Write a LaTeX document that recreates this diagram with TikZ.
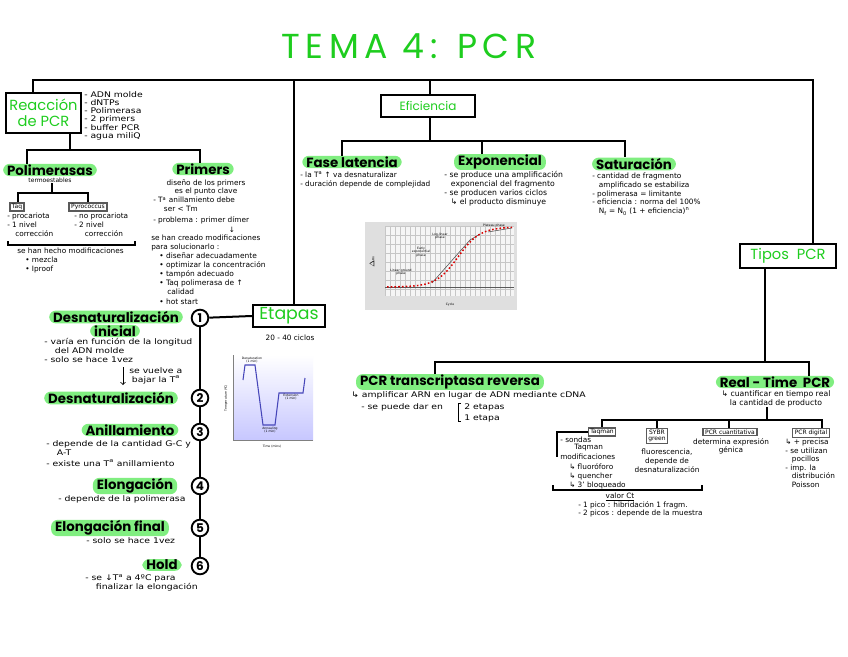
\documentclass[tikz,border=0pt]{standalone}
\usepackage{fontspec}
\setmainfont{DejaVu Sans}
\newfontfamily\hfont{Poppins}
\newfontfamily\wfont{DejaVu Sans}[FakeStretch=1.2]
\usetikzlibrary{calc}
\definecolor{hlg}{RGB}{128,238,128}
\definecolor{tg}{RGB}{30,205,30}
\definecolor{bxg}{RGB}{90,90,90}
\tikzset{
  conn/.style={line width=1.5pt},
  thinconn/.style={line width=1pt},
  hl/.style={fill=hlg, rounded corners=5pt, inner xsep=3pt, inner ysep=0.6pt, text=black, font=\hfont\bfseries\fontsize{10}{11}\selectfont},
  sm/.style={inner sep=0pt, align=left, font=\fontsize{5.5}{6.5}\selectfont},
  smc/.style={sm, align=center},
  smw/.style={inner sep=0pt, align=left, font=\wfont\fontsize{5.8}{6.7}\selectfont},
  gbox/.style={draw, line width=1.7pt, text=tg, align=center},
  tbox/.style={draw=bxg, line width=1pt, inner xsep=1.5pt, inner ysep=1pt, align=center, font=\fontsize{4.5}{5}\selectfont},
  num/.style={circle, draw, line width=1.4pt, minimum size=12.5pt, inner sep=0pt, fill=white, font=\hfont\bfseries\fontsize{9}{9}\selectfont},
  tiny/.style={inner sep=0pt, align=center, font=\fontsize{2.3}{2.6}\selectfont},
}
\begin{document}
\begin{tikzpicture}[x=0.75pt,y=-0.75pt]
\useasboundingbox[fill=white] (0,0) rectangle (848,656);

% title
\node[text=tg, font=\hfont\fontsize{26}{26}\selectfont\addfontfeature{LetterSpace=16}] (title) at (409,46) {TEMA 4: PCR};

% main boxes
\node[gbox, font=\hfont\fontsize{11}{12}\selectfont, minimum width=56pt, minimum height=30pt, inner sep=1pt] (reac) at (43.5,113) {Reacción\\de PCR};
\node[gbox, font=\hfont\fontsize{9}{10}\selectfont, minimum width=70pt, minimum height=17pt, inner sep=1pt] (efic) at (428,106) {Eficiencia};
\node[gbox, font=\hfont\fontsize{11}{12}\selectfont, minimum width=72pt, minimum height=18pt, inner sep=1pt] (tipos) at (788,256) {Tipos\ \ PCR};
\node[gbox, font=\hfont\fontsize{13}{14}\selectfont, minimum width=54pt, minimum height=17pt, inner sep=1pt] (etapas) at (289,316) {Etapas};
\node[smc] (ciclos) at (290,338) {20 - 40 ciclos};

% Reaccion
\node[smw, anchor=north west, font=\wfont\fontsize{5.8}{6.2}\selectfont] (mat) at (84,91) {- ADN molde\\- dNTPs\\- Polimerasa\\- 2 primers\\- buffer PCR\\- agua miliQ};

% Polimerasas
\node[hl] (poli) at (50,170) {Polimerasas};
\node[smc, font=\fontsize{4.5}{5}\selectfont] (termo) at (50,180.5) {termoestables};
\node[tbox] (taq) at (17,207) {Taq};
\node[tbox] (pyro) at (88,207) {Pyrococcus};
\node[sm, anchor=north west] (taqt) at (7,213) {- procariota\\- 1 nivel\\\hspace*{6pt}corrección};
\node[sm, anchor=north west] (pyrot) at (74,213) {- no procariota\\- 2 nivel\\\hspace*{8pt}corrección};
\draw[thinconn] (8,241) -- (8,245) -- (135,245) -- (135,241);
\node[sm, anchor=north west] (modpol) at (17,248) {se han hecho modificaciones\\\hspace*{6pt}• mezcla\\\hspace*{6pt}• Iproof};

% Primers
\node[hl] (prim) at (203,169) {Primers};
\node[smc, anchor=north, font=\fontsize{5.5}{6}\selectfont] (primd) at (206,180) {diseño de los primers\\es el punto clave};
\node[sm, anchor=north west] (prim1) at (153,197) {- T\textsuperscript{a} anillamiento debe\\\hspace*{8pt}ser < Tm};
\node[sm, anchor=west] (prim2) at (153,220) {- problema : primer dímer};
\node[sm] (arr1) at (232,229.5) {↓};
\node[sm, anchor=north west] (prim3) at (151,235) {se han creado modificaciones\\para solucionarlo :};
\node[sm, anchor=north west, font=\fontsize{5.6}{6.9}\selectfont] (prim4) at (159,252) {• diseñar adecuadamente\\• optimizar la concentración\\• tampón adecuado\\• Taq polimerasa de ↑\\\hspace*{6pt}calidad\\• hot start};

% Eficiencia
\node[hl] (fase) at (352,162) {Fase latencia};
\node[sm, anchor=north west] (faset) at (300,171.5) {- la T\textsuperscript{a} ↑ va desnaturalizar\\- duración depende de complejidad};
\node[hl] (expo) at (500,162) {Exponencial};
\node[sm, anchor=north west, font=\fontsize{5.8}{6.6}\selectfont] (expot) at (444,171.5) {- se produce una amplificación\\\hspace*{5pt}exponencial del fragmento\\- se producen varios ciclos\\\hspace*{5pt}↳ el producto disminuye};
\node[hl] (satu) at (634,164) {Saturación};
\node[sm, anchor=north west] (satut) at (592,173) {- cantidad de fragmento\\\hspace*{5pt}amplificado se estabiliza\\- polimerasa = limitante\\- eficiencia : norma del 100\%\\\hspace*{5pt}N\textsubscript{f} = N\textsubscript{0} (1 + eficiencia)\textsuperscript{n}};

% amplification chart
\fill[gray!25] (365,222) rectangle (517,310);
\fill[gray!8] (385,226) rectangle (514,296);
\foreach \gx in {385,390,...,514} \draw[gray!45, line width=0.25pt] (\gx,226) -- (\gx,296);
\foreach \gy in {226,235,...,296} \draw[gray!45, line width=0.25pt] (385,\gy) -- (514,\gy);
\draw[gray!70!black, line width=0.5pt] (385,287) -- (514,287);
\draw[gray!60!black, line width=0.4pt] (432,283) -- (470,240) -- (480,234);
\draw[gray!60!black, line width=0.4pt] (488,232) -- (512,228);
\draw[red!85!black, line width=1.1pt, dash pattern=on 1.2pt off 1.6pt] plot[domain=387:512, samples=70] (\x, {287-60/(1+exp(-(\x-458)/11))});
\node[tiny] (lpl) at (494,226) {Plateau phase};
\node[tiny] (lll) at (440,236) {Log-linear\\phase};
\node[tiny] (lee) at (421,252) {Early\\exponential\\phase};
\node[tiny] (llg) at (401,272) {Linear ground\\phase};
\node[tiny, rotate=90] (lay) at (372,262) {$\Delta$Rn};
\node[tiny] (lax) at (450,305) {Cycle};

% Etapas stages
\node[num] (c1) at (200,318) {1};
\node[num] (c2) at (200,398) {2};
\node[num] (c3) at (200,432) {3};
\node[num] (c4) at (200,486) {4};
\node[num] (c5) at (200,528) {5};
\node[num] (c6) at (200,566) {6};

\node[hl] (s1a) at (116,317) {Desnaturalización};
\node[hl] (s1b) at (115,331) {inicial};
\node[smw, anchor=north west] (s1t) at (44,338.5) {- varía en función de la longitud\\\hspace*{8pt}del ADN molde\\- solo se hace 1vez};
\coordinate (a1) at (123,367);
\coordinate (a2) at (123,385);
\draw[->, line width=0.6pt] (a1) -- (a2);
\node[smw, anchor=north west] (vuelve) at (129,367) {se vuelve a\\\hspace*{2pt}bajar la T\textsuperscript{a}};
\node[hl] (s2) at (111,398) {Desnaturalización};
\node[hl] (s3) at (130,430) {Anillamiento};
\node[smw, anchor=north west] (s3t) at (46,440) {- depende de la cantidad G-C y\\\hspace*{8pt}A-T};
\node[smw, anchor=west] (s3u) at (46,463) {- existe una T\textsuperscript{a} anillamiento};
\node[hl] (s4) at (135,486) {Elongación};
\node[smw, anchor=west] (s4t) at (58,499) {- depende de la polimerasa};
\node[hl] (s5) at (110,528) {Elongación final};
\node[smw, anchor=west] (s5t) at (86,541) {- solo se hace 1vez};
\node[hl] (s6) at (162,565) {Hold};
\node[smw, anchor=north west] (s6t) at (85,574) {- se ↓T\textsuperscript{a} a 4ºC para\\\hspace*{8pt}finalizar la elongación};

% temperature chart
\shade[top color=white, bottom color=blue!22] (233,355) rectangle (313,440);
\draw[gray, line width=0.4pt] (233,355) -- (233,440) -- (313,440);
\draw[blue!45!gray, line width=0.8pt] (243,380) -- (245,365) -- (255,365) -- (263,425) -- (275,425) -- (279,393) -- (303,393) -- (305,378);
\node[tiny] (tden) at (252,360) {Denaturation\\(1 min)};
\node[tiny] (tann) at (270,430) {Annealing\\(1 min)};
\node[tiny] (text) at (291,397) {Extension\\(1 min)};
\node[tiny] (ttime) at (272,447) {Time (mins)};
\node[tiny, rotate=90] (ttemp) at (226,398) {Temperature (ºC)};

% Tipos PCR
\node[hl] (trans) at (450,382) {PCR transcriptasa reversa};
\node[smw, anchor=west] (transt) at (351,395) {↳ amplificar ARN en lugar de ADN mediante cDNA};
\node[smw, anchor=west] (transu) at (361,407) {- se puede dar en};
\draw[line width=0.7pt] (461,403) -- (458,403) -- (458,421) -- (461,421);
\node[smw, anchor=west] (et2) at (464,407) {2 etapas};
\node[smw, anchor=west] (et1) at (464,418) {1 etapa};

\node[hl] (rt) at (775,382) {Real - Time\ \ PCR};
\node[smc, anchor=north, font=\fontsize{5.8}{6.6}\selectfont] (rtsub) at (776,390.5) {↳ cuantificar en tiempo real\\la cantidad de producto};

\node[tbox] (taqm) at (602,432) {Taqman};
\node[tbox] (sybr) at (657,436) {SYBR\\green};
\node[tbox] (pcrq) at (730,432) {PCR cuantitativa};
\node[tbox] (pcrd) at (811,433) {PCR digital};

\node[sm, anchor=west] (taq1) at (560,440) {- sondas};
\node[sm, anchor=west] (taq2) at (574,448) {Taqman};
\node[sm, anchor=west] (taq3) at (560,457) {modificaciones};
\node[sm, anchor=north west, font=\fontsize{5.5}{7}\selectfont] (taq4) at (569,463) {↳ fluoróforo\\↳ quencher\\↳ 3' bloqueado};
\node[smc, anchor=north] (sybrt) at (667,449) {fluorescencia,\\depende de\\desnaturalización};
\node[smc, anchor=north] (pcrqt) at (731,438) {determina expresión\\génica};
\node[sm, anchor=north west, font=\fontsize{5.5}{6.4}\selectfont] (pcrdt) at (785,439) {↳ + precisa\\- se utilizan\\\hspace*{5pt}pocillos\\- imp. la\\\hspace*{5pt}distribución\\\hspace*{5pt}Poisson};

\draw[thinconn] (553,485) -- (553,490) -- (702,490) -- (702,485);
\node[smc] (ct) at (620,497) {\underline{valor Ct}};
\node[sm, anchor=west] (ct1) at (578,505) {- 1 pico : hibridación 1 fragm.};
\node[sm, anchor=west] (ct2) at (578,513) {- 2 picos : depende de la muestra};

% connectors
\coordinate (j0) at (33,80);
\coordinate (j1) at (294,80);
\coordinate (j2) at (430,80);
\coordinate (j3) at (813,80);
\draw[conn] (reac.north -| j0) -- (j0) -- (j3) -- (tipos.north -| j3);
\draw[conn] (j1) -- (etapas.north -| j1);
\draw[conn] (j2) -- (efic.north -| j2);

\coordinate (f0) at (430,141);
\coordinate (f1) at (342,141);
\coordinate (f2) at (482,141);
\coordinate (f3) at (625,141);
\draw[conn] (efic.south -| f0) -- (f0);
\draw[conn] (fase.north -| f1) -- (f1) -- (f3) -- (satu.north -| f3);
\draw[conn] (f2) -- (expo.north -| f2);

\coordinate (r0) at (70,150);
\coordinate (r1) at (27,150);
\coordinate (r2) at (200,150);
\draw[conn] (reac.south -| r0) -- (r0);
\draw[conn] (poli.north -| r1) -- (r1) -- (r2) -- (prim.north -| r2);

\coordinate (p0) at (52,193);
\coordinate (p1) at (18,193);
\coordinate (p2) at (88,193);
\draw[thinconn] (termo.south -| p0) -- (p0);
\draw[thinconn] (taq.north -| p1) -- (p1) -- (p2) -- (pyro.north -| p2);

\draw[conn] (etapas.west) -- (c1);
\foreach \a/\b in {c1/c2,c2/c3,c3/c4,c4/c5,c5/c6} \draw[conn] (\a) -- (\b);

\coordinate (k0) at (765,362);
\coordinate (k1) at (435,362);
\coordinate (k2) at (809,362);
\draw[conn] (tipos.south -| k0) -- (k0);
\draw[conn] (trans.north -| k1) -- (k1) -- (k2) -- (rt.north -| k2);

\coordinate (q0) at (767,420);
\coordinate (q1) at (602,420);
\coordinate (q2) at (657,420);
\coordinate (q3) at (729,420);
\coordinate (q4) at (822,420);
\draw[thinconn] (rtsub.south -| q0) -- (q0);
\draw[thinconn] (taqm.north -| q1) -- (q1) -- (q4) -- (pcrd.north -| q4);
\draw[thinconn] (q2) -- (sybr.north -| q2);
\draw[thinconn] (q3) -- (pcrq.north -| q3);
\coordinate (q5) at (557,457);
\draw[line width=0.8pt] (taqm.west) -| (q5);
\end{tikzpicture}
\end{document}
